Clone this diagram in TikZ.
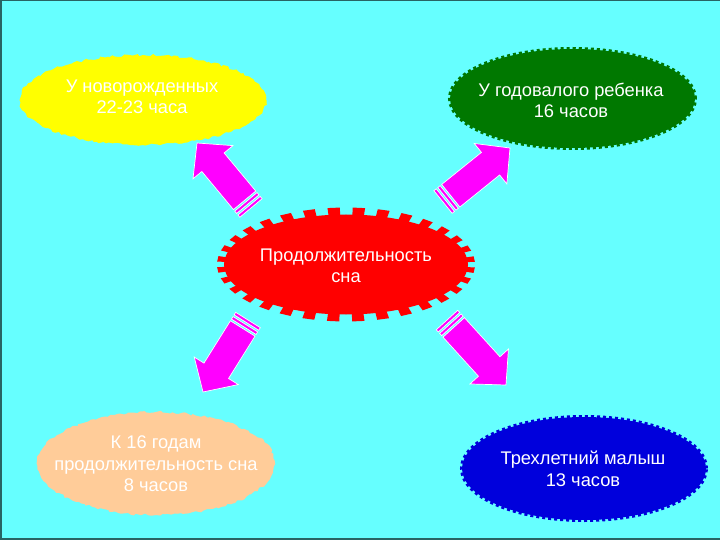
\documentclass[tikz,border=0pt]{standalone}
\usepackage{fontspec}
\setmainfont{Liberation Sans}
\usetikzlibrary{calc,decorations.pathmorphing}
\definecolor{bg}{RGB}{102,255,255}
\definecolor{framec}{RGB}{40,100,100}
\definecolor{yel}{RGB}{255,255,0}
\definecolor{grn}{RGB}{0,120,0}
\definecolor{rd}{RGB}{255,0,0}
\definecolor{pch}{RGB}{255,204,153}
\definecolor{blu}{RGB}{0,0,220}
\definecolor{mag}{RGB}{255,0,255}
\tikzset{
  txt/.style={text=white, align=center, font=\fontsize{18.3}{21.5}\selectfont, inner sep=0pt},
  fuzzy/.style={decorate, decoration={random steps, segment length=3pt, amplitude=1.3pt}},
  bumpy/.style={line width=4pt, dash pattern=on 3pt off 3pt},
  arrowpart/.style={fill=mag, draw=white, line width=0.7pt, line join=miter},
}
\newcommand\sarrow[2]{%
  \coordinate (q0) at (#1);
  \coordinate (q3) at ($(#1)!3pt!(#2)$);
  \coordinate (q5) at ($(#1)!5pt!(#2)$);
  \coordinate (q8) at ($(#1)!8pt!(#2)$);
  \coordinate (q10) at ($(#1)!10pt!(#2)$);
  \coordinate (qh) at ($(#2)!25pt!(#1)$);
  \path[arrowpart] ($(q0)!14.5pt!90:(#2)$) -- ($(q3)!14.5pt!-90:(q0)$) -- ($(q3)!14.5pt!90:(q0)$) -- ($(q0)!14.5pt!-90:(#2)$) -- cycle;
  \path[arrowpart] ($(q5)!14.5pt!90:(#2)$) -- ($(q8)!14.5pt!-90:(q5)$) -- ($(q8)!14.5pt!90:(q5)$) -- ($(q5)!14.5pt!-90:(#2)$) -- cycle;
  \path[arrowpart] ($(q10)!14.5pt!90:(#2)$) -- ($(qh)!14.5pt!-90:(q10)$) -- ($(qh)!26pt!-90:(q10)$) -- (#2) -- ($(qh)!26pt!90:(q10)$) -- ($(qh)!14.5pt!90:(q10)$) -- ($(q10)!14.5pt!-90:(#2)$) -- cycle;
}
\begin{document}
\begin{tikzpicture}[x=1pt,y=-1pt]
\useasboundingbox (0,0) rectangle (720,540);
\fill[bg] (0,0) rectangle (720,540);
\draw[framec, line width=1pt] (0,0.5) -- (720,0.5);
\draw[framec, line width=2pt] (1,0) -- (1,540);
\draw[framec, line width=2.5pt] (0,539) -- (720,539);

% centres
\coordinate (yc) at (143,100);
\coordinate (gc) at (572.5,98.5);
\coordinate (rc) at (346,264.5);
\coordinate (pc) at (156,463.5);
\coordinate (bc) at (584,468.5);

% yellow
\fill[yel, fuzzy] (yc) ellipse [x radius=123pt, y radius=45pt];
% green
\fill[grn] (gc) ellipse [x radius=122.5pt, y radius=49.5pt];
\draw[grn, bumpy] (gc) ellipse [x radius=122.5pt, y radius=49.5pt];
% red gear
\fill[rd] (rc) ellipse [x radius=122pt, y radius=50pt];
\foreach \i in {0,...,31}{
  \pgfmathsetmacro\ta{\i*11.25+3}
  \pgfmathsetmacro\tb{\ta+5.5}
  \fill[rd] ($(rc)+({118*cos(\ta)},{46*sin(\ta)})$) -- ($(rc)+({129*cos(\ta)},{57*sin(\ta)})$)
    -- ($(rc)+({129*cos(\tb)},{57*sin(\tb)})$) -- ($(rc)+({118*cos(\tb)},{46*sin(\tb)})$) -- cycle;
}
% peach
\fill[pch, fuzzy] (pc) ellipse [x radius=119pt, y radius=51.5pt];
% blue
\fill[blu] (bc) ellipse [x radius=122pt, y radius=51.5pt];
\draw[blu, bumpy] (bc) ellipse [x radius=122pt, y radius=51.5pt];

% texts
\node[txt] (ytext) at (142,97) {У новорожденных\\22-23 часа};
\node[txt] (gtext) at (571,100.5) {У годовалого ребенка\\16 часов};
\node[txt] (rtext) at (346,266) {Продолжительность\\сна};
\node[txt] (ptext) at (156,464) {К 16 годам\\продолжительность сна\\8 часов};
\node[txt] (btext) at (583,469) {Трехлетний малыш\\13 часов};

% arrows
\coordinate (a1t) at (251,208); \coordinate (a1h) at (197,143);
\coordinate (a2t) at (443,202); \coordinate (a2h) at (510,148);
\coordinate (a3t) at (248,320); \coordinate (a3h) at (203,392);
\coordinate (a4t) at (447,320); \coordinate (a4h) at (506,385);
\sarrow{a1t}{a1h}
\sarrow{a2t}{a2h}
\sarrow{a3t}{a3h}
\sarrow{a4t}{a4h}
\end{tikzpicture}
\end{document}
